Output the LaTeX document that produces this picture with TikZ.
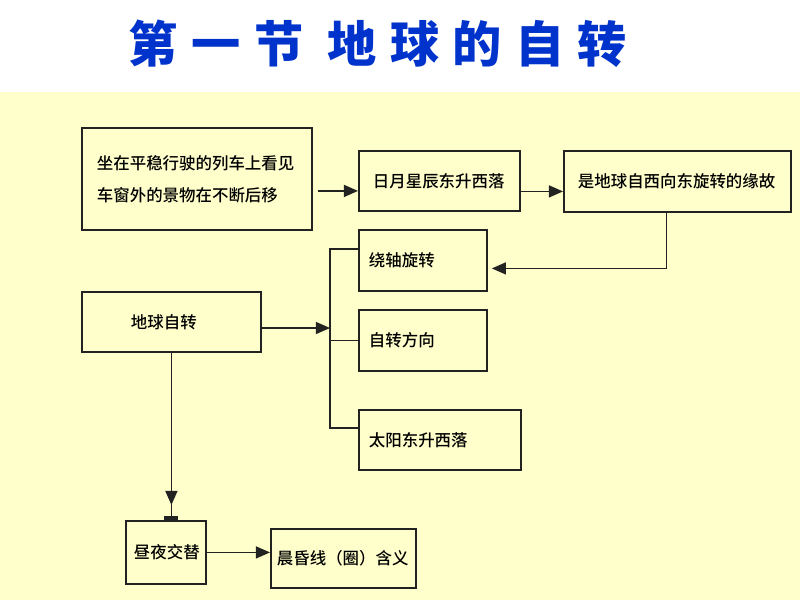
\documentclass[tikz,border=0pt]{standalone}
\usepackage{fontspec}
\newfontfamily\cjk{Noto Sans CJK SC}
\newfontfamily\cjkmed{Noto Sans CJK SC}[UprightFont=* Medium]
\usetikzlibrary{arrows.meta}
\definecolor{slideyellow}{HTML}{FFFFCC}
\definecolor{titleblue}{HTML}{0033CC}
\definecolor{boxline}{HTML}{222222}

\begin{document}
\begin{tikzpicture}[x=0.025cm, y=-0.025cm,
    box/.style={draw=boxline, line width=1.3pt, anchor=north west, align=left,
      font=\cjkmed\fontsize{11.7}{22.8}\selectfont},
    arr/.style={draw=boxline, line width=1.1pt, -{Triangle[length=10pt,width=8.5pt]}},
    link/.style={draw=boxline, line width=1.1pt}]
        \def \px {0.025cm}

        \useasboundingbox (0,0) rectangle (800,600);
        \fill[white] (0,0) rectangle (800,92);
        \fill[slideyellow] (0,92) rectangle (800,600);

        % title
        \node[text=titleblue, font=\cjk\bfseries\fontsize{35}{40}\selectfont\addfontfeature{LetterSpace=27}]
          (title) at (378,44) {第一节 地球的自转};

        % boxes
        \node[box, inner xsep=15*\px, text width=200*\px, minimum height=102*\px] (train) at (81,127)
          {坐在平稳行驶的列车上看见\\车窗外的景物在不断后移};
        \node[box, inner xsep=14*\px, text width=133*\px, minimum height=60*\px] (stars) at (358,150) {日月星辰东升西落};
        \node[box, inner xsep=14*\px, text width=199*\px, minimum height=61*\px] (cause) at (563,150) {是地球自西向东旋转的缘故};
        \node[box, inner xsep=10*\px, text width=108*\px, minimum height=61*\px] (axis) at (358,229) {绕轴旋转};
        \node[box, inner xsep=49*\px, text width=81*\px, minimum height=60*\px] (earth) at (81,291) {地球自转};
        \node[box, inner xsep=10*\px, text width=108*\px, minimum height=61*\px] (dir) at (358,309) {自转方向};
        \node[box, inner xsep=10*\px, text width=142*\px, minimum height=60*\px] (sunrise) at (358,409) {太阳东升西落};
        \node[box, inner xsep=8*\px, text width=64*\px, minimum height=63*\px] (dayn) at (125,520) {昼夜交替};
        \node[box, inner xsep=6*\px, text width=133*\px, minimum height=59*\px] (twilight) at (270,528) {晨昏线（圈）含义};

        % connectors
        \coordinate (a1) at ([yshift=-10*\px]stars.west);
        \draw[arr] ([xshift=5*\px]train.east |- a1) -- (a1);
        \coordinate (a2) at ([yshift=-10*\px]cause.west);
        \draw[arr] (stars.east |- a2) -- (a2);
        \coordinate (a3) at ([xshift=4*\px,yshift=-8*\px]axis.east);
        \draw[arr] ([xshift=-11*\px]cause.south) |- (a3);

        \coordinate (br) at (330,328);
        \coordinate (brtop) at (330,249);
        \coordinate (brbot) at (330,428);
        \draw[arr] (earth.east |- br) -- (br);
        \draw[link] (brtop -| axis.west) -- (brtop) -- (brbot) -- (brbot -| sunrise.west);
        \draw[link] (dir.west) -- (dir.west -| br);

        \draw[link] (earth.south) -- (earth.south |- dayn.north);
        \draw[arr] (earth.south) -- ([yshift=15*\px]earth.south |- dayn.north);
        \fill[boxline] ([xshift=-7*\px]earth.south |- dayn.north) rectangle ([xshift=7*\px,yshift=4*\px]earth.south |- dayn.north);
        \draw[arr] (dayn.east) -- (dayn.east -| twilight.west);
\end{tikzpicture}
\end{document}
